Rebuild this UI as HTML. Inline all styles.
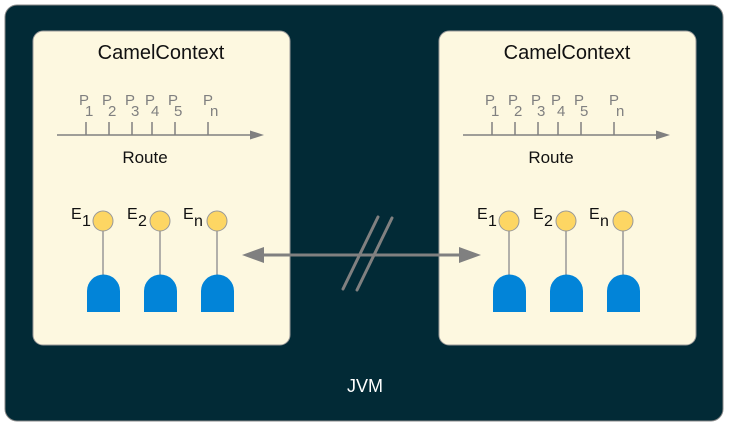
<!DOCTYPE html>
<html><head><style>body{margin:0;background:#fff}svg{display:block}</style></head><body>
<svg width="731" height="433" viewBox="0 0 731 433" xmlns="http://www.w3.org/2000/svg" font-family="Liberation Sans, sans-serif">
<rect x="5" y="5" width="718" height="416" rx="12" fill="#022a36" stroke="#888" stroke-width="1"/>
<defs>
<g id="ctx">
<rect x="33" y="31" width="257" height="314" rx="10" fill="#fdf8e0" stroke="#999" stroke-width="1"/>
<text x="161" y="59" font-size="20" text-anchor="middle" fill="#111">CamelContext</text>
<line x1="57" y1="135" x2="252" y2="135" stroke="#808080" stroke-width="1.5"/>
<polygon points="250,130.5 264,135 250,139.5" fill="#808080"/>
<g stroke="#808080" stroke-width="1.5">
<line x1="86" y1="122" x2="86" y2="135"/><line x1="109" y1="122" x2="109" y2="135"/>
<line x1="132" y1="122" x2="132" y2="135"/><line x1="152" y1="122" x2="152" y2="135"/>
<line x1="175" y1="122" x2="175" y2="135"/><line x1="208" y1="122" x2="208" y2="135"/>
</g>
<g fill="#808080" font-size="15">
<text x="79" y="105">P</text><text x="85" y="116">1</text>
<text x="102" y="105">P</text><text x="108" y="116">2</text>
<text x="125" y="105">P</text><text x="131" y="116">3</text>
<text x="145" y="105">P</text><text x="151" y="116">4</text>
<text x="168" y="105">P</text><text x="174" y="116">5</text>
<text x="203" y="105">P</text><text x="210" y="116">n</text>
</g>
<text x="145" y="163" font-size="17" text-anchor="middle" fill="#111">Route</text>
<g stroke="#999" stroke-width="1.5">
<line x1="103" y1="222" x2="103" y2="276"/><line x1="160" y1="222" x2="160" y2="276"/><line x1="217" y1="222" x2="217" y2="276"/>
</g>
<g fill="#0284d8">
<path d="M87,312 V291 A16.5,16.5 0 0 1 120,291 V312 Z"/>
<path d="M144,312 V291 A16.5,16.5 0 0 1 177,291 V312 Z"/>
<path d="M201,312 V291 A16.5,16.5 0 0 1 234,291 V312 Z"/>
</g>
<g fill="#fdd663" stroke="#999" stroke-width="1">
<circle cx="103" cy="221" r="10"/><circle cx="160" cy="221" r="10"/><circle cx="217" cy="221" r="10"/>
</g>
<g fill="#111" font-size="16">
<text x="71" y="219">E</text><text x="82" y="226">1</text>
<text x="127" y="219">E</text><text x="138" y="226">2</text>
<text x="183" y="219">E</text><text x="194" y="226">n</text>
</g>
</g>
</defs>
<use href="#ctx"/>
<use href="#ctx" transform="translate(406,0)"/>
<line x1="254" y1="255" x2="468" y2="255" stroke="#808080" stroke-width="3"/>
<polygon points="242,255 264,247 264,263" fill="#808080"/>
<polygon points="481,255 459,247 459,263" fill="#808080"/>
<g stroke="#808080" stroke-width="3" stroke-linecap="round">
<line x1="378" y1="217" x2="343" y2="289"/><line x1="392" y1="218" x2="357" y2="290"/>
</g>
<text x="365" y="392" font-size="18" text-anchor="middle" fill="#fff">JVM</text>
</svg>
</body></html>
